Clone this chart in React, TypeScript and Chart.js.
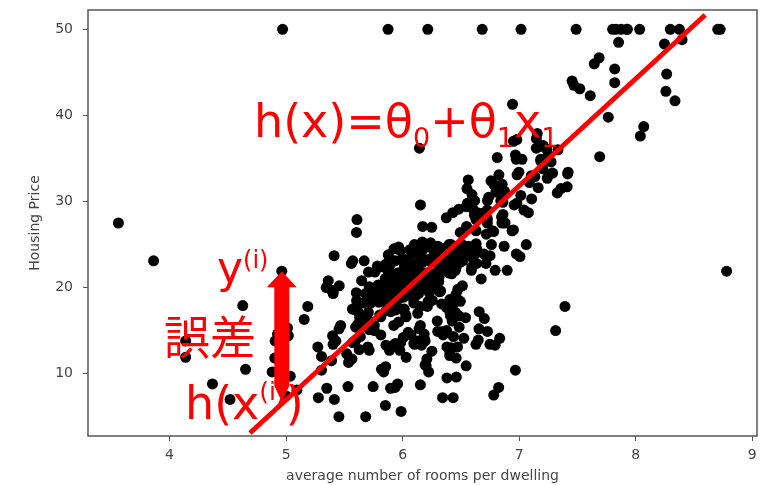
import React, { useEffect, useRef } from "react";
import { Chart, registerables } from "chart.js";

Chart.register(...registerables);

// average number of rooms per dwelling (x)
const roomsPerDwelling = [
  6.575,6.421,7.185,6.998,7.147,6.430,6.012,6.172,5.631,6.004,
  6.377,6.009,5.889,5.949,6.096,5.834,5.935,5.990,5.456,5.727,
  5.570,5.965,6.142,5.813,5.924,5.599,5.813,6.047,6.495,6.674,
  5.713,6.072,5.950,5.701,6.096,5.933,5.841,5.850,5.966,6.595,
  7.024,6.770,6.169,6.211,6.069,5.682,5.786,6.030,5.399,5.602,
  5.963,6.115,6.511,5.998,5.888,7.249,6.383,6.816,6.145,5.927,
  5.741,5.966,6.456,6.762,7.104,6.290,5.787,5.878,5.594,5.885,
  6.417,5.961,6.065,6.245,6.273,6.286,6.279,6.140,6.232,5.874,
  6.727,6.619,6.302,6.167,6.389,6.630,6.015,6.121,7.007,7.079,
  6.417,6.405,6.442,6.211,6.249,6.625,6.163,8.069,7.820,7.416,
  6.727,6.781,6.405,6.137,6.167,5.851,5.836,6.127,6.474,6.229,
  6.195,6.715,5.913,6.092,6.254,5.928,6.176,6.021,5.872,5.731,
  5.870,6.004,5.961,5.856,5.879,5.986,5.613,5.693,6.431,5.637,
  6.458,6.326,6.372,5.822,5.757,6.335,5.942,6.454,5.857,6.151,
  6.174,5.019,5.403,5.468,4.903,6.130,5.628,4.926,5.186,5.597,
  6.122,5.404,5.012,5.709,6.129,6.152,5.272,6.943,6.066,6.510,
  6.250,7.489,7.802,8.375,5.854,6.101,7.929,5.877,6.319,6.402,
  5.875,5.880,5.572,6.416,5.859,6.546,6.020,6.315,6.860,6.980,
  7.765,6.144,7.155,6.563,5.604,6.153,7.831,6.782,6.556,7.185,
  6.951,6.739,7.178,6.800,6.604,7.875,7.287,7.107,7.274,6.975,
  7.135,6.162,7.610,7.853,8.034,5.891,6.326,5.783,6.064,5.344,
  5.960,5.404,5.807,6.375,5.412,6.182,5.888,6.642,5.951,6.373,
  6.951,6.164,6.879,6.618,8.266,8.725,8.040,7.163,7.686,6.552,
  5.981,7.412,8.337,8.247,6.726,6.086,6.631,7.358,6.481,6.606,
  6.897,6.095,6.358,6.393,5.593,5.605,6.108,6.226,6.433,6.718,
  6.487,6.438,6.957,8.259,6.108,5.876,7.454,8.704,7.333,6.842,
  7.203,7.520,8.398,7.327,7.206,5.560,7.014,8.297,7.470,5.920,
  5.856,6.240,6.538,7.691,6.758,6.854,7.267,6.826,6.482,6.812,
  7.820,6.968,7.645,7.923,7.088,6.453,6.230,6.209,6.315,6.565,
  6.861,7.148,6.630,6.127,6.009,6.678,6.549,5.790,6.345,7.041,
  6.871,6.590,6.495,6.982,7.236,6.616,7.420,6.849,6.635,5.972,
  4.973,6.122,6.023,6.266,6.567,5.705,5.914,5.782,6.382,6.113,
  6.426,6.376,6.041,5.708,6.415,6.431,6.312,6.083,5.868,6.333,
  6.144,5.706,6.031,6.316,6.310,6.037,5.869,5.895,6.059,5.985,
  5.968,7.241,6.540,6.696,6.874,6.014,5.898,6.516,6.635,6.939,
  6.490,6.579,5.884,6.728,5.663,5.936,6.212,6.395,6.127,6.112,
  6.398,6.251,5.362,5.803,8.780,3.561,4.963,3.863,4.970,6.683,
  7.016,6.216,5.875,4.906,4.138,7.313,6.649,6.794,6.380,6.223,
  6.968,6.545,5.536,5.520,4.368,5.277,4.652,5.000,4.880,5.390,
  5.713,6.051,5.036,6.193,5.887,6.471,6.405,5.747,5.453,5.852,
  5.987,6.343,6.404,5.349,5.531,5.683,4.138,5.608,5.617,6.852,
  5.757,6.657,4.628,5.155,4.519,6.434,6.782,5.304,5.957,6.824,
  6.411,6.006,5.648,6.103,5.565,5.896,5.837,6.202,6.193,6.380,
  6.348,6.833,6.425,6.436,6.208,6.629,6.461,6.152,5.935,5.627,
  5.818,6.406,6.219,6.485,5.854,6.459,6.341,6.251,6.185,6.417,
  6.749,6.655,6.297,7.393,6.728,6.525,5.976,5.936,6.301,6.081,
  6.701,6.376,6.317,6.513,6.209,5.759,5.952,6.003,5.926,5.713,
  6.167,6.229,6.437,6.980,5.427,6.162,6.484,5.304,6.185,6.229,
  6.242,6.750,7.061,5.762,5.871,6.312,6.114,5.905,5.454,5.414,
  5.093,5.983,5.983,5.707,5.926,5.670,5.390,5.794,6.019,5.569,
  6.027,6.593,6.120,6.976,6.794,6.030,
];

// housing price (y)
const housingPrice = [
  24.0,21.6,34.7,33.4,36.2,28.7,22.9,27.1,16.5,18.9,
  15.0,18.9,21.7,20.4,18.2,19.9,23.1,17.5,20.2,18.2,
  13.6,19.6,15.2,14.5,15.6,13.9,16.6,14.8,18.4,21.0,
  12.7,14.5,13.2,13.1,13.5,18.9,20.0,21.0,24.7,30.8,
  34.9,26.6,25.3,24.7,21.2,19.3,20.0,16.6,14.4,19.4,
  19.7,20.5,25.0,23.4,18.9,35.4,24.7,31.6,23.3,19.6,
  18.7,16.0,22.2,25.0,33.0,23.5,19.4,22.0,17.4,20.9,
  24.2,21.7,22.8,23.4,24.1,21.4,20.0,20.8,21.2,20.3,
  28.0,23.9,24.8,22.9,23.9,26.6,22.5,22.2,23.6,28.7,
  22.6,22.0,22.9,25.0,20.6,28.4,21.4,38.7,43.8,33.2,
  27.5,26.5,18.6,19.3,20.1,19.5,19.5,20.4,19.8,19.4,
  21.7,22.8,18.8,18.7,18.5,18.3,21.2,19.2,20.4,19.3,
  22.0,20.3,20.5,17.3,18.8,21.4,15.7,16.2,18.0,14.3,
  19.2,19.6,23.0,18.4,15.6,18.1,17.4,17.1,13.3,17.8,
  14.0,14.4,13.4,15.6,11.8,13.8,15.6,14.6,17.8,15.4,
  21.5,19.6,15.3,19.4,17.0,15.6,13.1,41.3,24.3,23.3,
  27.0,50.0,50.0,50.0,22.7,25.0,50.0,23.8,23.8,22.3,
  17.4,19.1,23.1,23.6,22.6,29.4,23.2,24.6,29.9,37.2,
  39.8,36.2,37.9,32.5,26.4,29.6,50.0,32.0,29.8,34.9,
  37.0,30.5,36.4,31.1,29.1,50.0,33.3,30.3,34.6,34.9,
  32.9,24.1,42.3,48.5,50.0,22.6,24.4,22.5,24.4,20.0,
  21.7,19.3,22.4,28.1,23.7,25.0,23.3,28.7,21.5,23.0,
  26.7,21.7,27.5,30.1,44.8,50.0,37.6,31.6,46.7,31.5,
  24.3,31.7,41.7,48.3,29.0,24.0,25.1,31.5,23.7,23.3,
  22.0,20.1,22.2,23.7,17.6,18.5,24.3,20.5,24.5,26.2,
  24.4,24.8,29.6,42.8,21.9,20.9,44.0,50.0,36.0,30.1,
  33.8,43.1,48.8,31.0,36.5,22.8,30.7,50.0,43.5,20.7,
  21.1,25.2,24.4,35.2,32.4,32.0,33.2,33.1,29.1,35.1,
  45.4,35.4,46.0,50.0,32.2,22.0,20.1,23.2,22.3,24.8,
  28.5,37.3,27.9,23.9,21.7,28.6,27.1,20.3,22.5,29.0,
  24.8,22.0,26.4,33.1,36.1,28.4,33.4,28.2,22.8,20.3,
  16.1,22.1,19.4,21.6,23.8,16.2,17.8,19.8,23.1,21.0,
  23.8,23.1,20.4,18.5,25.0,24.6,23.0,22.2,19.3,22.6,
  19.8,17.1,19.4,22.2,20.7,21.1,19.5,18.5,20.6,19.0,
  18.7,32.7,16.5,23.9,31.2,17.5,17.2,23.1,24.5,26.6,
  22.9,24.1,18.6,30.1,18.2,20.6,17.8,21.7,22.7,22.6,
  25.0,19.9,20.8,16.8,21.9,27.5,21.9,23.1,50.0,50.0,
  50.0,50.0,50.0,13.8,13.8,15.0,13.9,13.3,13.1,10.2,
  10.4,10.9,11.3,12.3,8.8,7.2,10.5,7.4,10.2,11.5,
  15.1,23.2,9.7,13.8,12.7,13.1,12.5,8.5,5.0,6.3,
  5.6,7.2,12.1,8.3,8.5,5.0,11.9,27.9,17.2,27.5,
  15.0,17.2,17.9,16.3,7.0,7.2,7.5,10.4,8.8,8.4,
  16.7,14.2,20.8,13.4,11.7,8.3,10.2,10.9,11.0,9.5,
  14.5,14.1,16.1,14.3,11.7,13.4,9.6,8.7,8.4,12.8,
  10.5,17.1,18.4,15.4,10.8,11.8,14.9,12.6,14.1,13.0,
  13.4,15.2,16.1,17.8,14.9,14.1,12.7,13.5,14.9,20.0,
  16.4,17.7,19.5,20.2,21.4,19.9,19.0,19.1,19.1,20.1,
  19.9,19.6,23.2,29.8,13.8,13.3,16.7,12.0,14.6,21.4,
  23.0,23.7,25.0,21.8,20.6,21.2,19.1,20.6,15.2,7.0,
  8.1,13.6,20.1,21.8,24.5,23.1,19.7,18.3,21.2,17.5,
  16.8,22.4,20.6,23.9,22.0,11.9,
];

const xTickValues = [4, 5, 6, 7, 8, 9];
const yTickValues = [10, 20, 30, 40, 50];
const xRange = [3.3, 9.041];
const yRange = [2.75, 52.25];

// hand-drawn regression line h(x)
const fitLineRooms = [4.69, 8.596];
const fitLinePrice = [3.1, 51.67];

// highlighted sample y(i)
const sampleRooms = 4.963;
const samplePrice = 21.9;

const xAxisLabel = "average number of rooms per dwelling";
const yAxisLabel = "Housing Price";

const RED = "#ff0000";
const AXIS = "#555555";
const TEXT = "#444444";
const ANNOT_FONT = '"DejaVu Sans", "Noto Sans CJK JP", sans-serif';

function lineAt(x: number) {
  const t = (x - fitLineRooms[0]) / (fitLineRooms[1] - fitLineRooms[0]);
  return fitLinePrice[0] + t * (fitLinePrice[1] - fitLinePrice[0]);
}

const framePlugin = {
  id: "frame",
  beforeDatasetsDraw(chart: any) {
    const { ctx, chartArea } = chart;
    ctx.save();
    ctx.strokeStyle = AXIS;
    ctx.lineWidth = 1.5;
    ctx.strokeRect(chartArea.left, chartArea.top, chartArea.right - chartArea.left, chartArea.bottom - chartArea.top);
    ctx.restore();
  },
};

const annotationPlugin = {
  id: "annotations",
  afterDatasetsDraw(chart: any) {
    const { ctx } = chart;
    const xs = chart.scales.x;
    const ys = chart.scales.y;
    ctx.save();
    ctx.fillStyle = RED;
    ctx.textAlign = "left";
    ctx.textBaseline = "alphabetic";
    const runs = (x: number, y: number, parts: [string, number, number][]) => {
      for (const [t, size, dy] of parts) {
        ctx.font = `${size}px ${ANNOT_FONT}`;
        ctx.fillText(t, x, y + dy);
        x += ctx.measureText(t).width;
      }
    };
    // formula
    runs(254, 137, [
      ["h(x)=θ", 46, 0],
      ["0", 27, 10],
      ["+θ", 46, 0],
      ["1", 27, 10],
      ["x", 46, 0],
      ["1", 27, 10],
    ]);
    // y(i)
    runs(217, 283, [
      ["y", 44, 0],
      ["(i)", 24, -15],
    ]);
    // 誤差
    runs(164, 354, [["誤差", 46, 0]]);
    // h(x(i))
    runs(185, 419, [
      ["h(x", 46, 0],
      ["(i)", 25, -19],
      [")", 46, 0],
    ]);

    // double-headed error arrow
    const ax = xs.getPixelForValue(sampleRooms);
    const top = ys.getPixelForValue(samplePrice);
    const bottom = ys.getPixelForValue(lineAt(sampleRooms)) - 2;
    const headH = 16;
    const headW = 15;
    const shaftW = 7.5;
    ctx.beginPath();
    ctx.moveTo(ax, top);
    ctx.lineTo(ax + headW, top + headH);
    ctx.lineTo(ax + shaftW, top + headH);
    ctx.lineTo(ax + shaftW, bottom - 16);
    ctx.lineTo(ax, bottom);
    ctx.lineTo(ax - shaftW, bottom - 16);
    ctx.lineTo(ax - shaftW, top + headH);
    ctx.lineTo(ax - headW, top + headH);
    ctx.closePath();
    ctx.fill();
    ctx.restore();
  },
};

export default function App() {
  const ref = useRef<HTMLCanvasElement | null>(null);
  useEffect(() => {
    if (!ref.current) return;
    const scatterData = roomsPerDwelling.map((x, i) => ({ x, y: housingPrice[i] }));
    const lineData = fitLineRooms.map((x, i) => ({ x, y: fitLinePrice[i] }));
    const tickFont = { family: "DejaVu Sans", size: 14 };
    const chart = new Chart(ref.current, {
      type: "scatter",
      data: {
        datasets: [
          {
            type: "line",
            data: lineData,
            borderColor: RED,
            borderWidth: 5,
            pointRadius: 0,
            fill: false,
            order: 0,
          } as any,
          {
            type: "scatter",
            data: scatterData,
            backgroundColor: "#000000",
            borderColor: "#000000",
            borderWidth: 0,
            pointRadius: 5.5,
            order: 1,
          },
        ],
      },
      options: {
        animation: false,
        responsive: false,
        events: [],
        layout: { padding: { top: 10, right: 13, left: 0, bottom: 0 } },
        plugins: { legend: { display: false }, tooltip: { enabled: false } },
        scales: {
          x: {
            type: "linear",
            min: xRange[0],
            max: xRange[1],
            afterBuildTicks: (s: any) => {
              s.ticks = xTickValues.map((v) => ({ value: v }));
            },
            afterFit: (s: any) => {
              s.height = 49;
              s.paddingLeft = 0;
              s.paddingRight = 0;
            },
            grid: { display: true, drawOnChartArea: false, drawTicks: true, tickLength: 5, color: AXIS, lineWidth: 1 },
            border: { display: false },
            ticks: { font: tickFont, color: TEXT, padding: 6, maxRotation: 0 },
            title: { display: true, text: xAxisLabel, font: tickFont, color: TEXT, padding: 0 },
          },
          y: {
            type: "linear",
            min: yRange[0],
            max: yRange[1],
            afterBuildTicks: (s: any) => {
              s.ticks = yTickValues.map((v) => ({ value: v }));
            },
            afterFit: (s: any) => {
              s.width = 88;
              s.paddingTop = 0;
              s.paddingBottom = 0;
            },
            grid: { display: true, drawOnChartArea: false, drawTicks: true, tickLength: 5, color: AXIS, lineWidth: 1 },
            border: { display: false },
            ticks: { font: tickFont, color: TEXT, padding: 10 },
            title: { display: true, text: yAxisLabel, font: tickFont, color: TEXT, padding: { top: 27, bottom: 0 } },
          },
        },
      },
      plugins: [framePlugin, annotationPlugin],
    });
    return () => chart.destroy();
  }, []);
  return (
    <div style={{ position: "fixed", left: 0, top: 0, width: 770, height: 485, background: "#fff" }}>
      <canvas ref={ref} width={770} height={485} style={{ width: 770, height: 485, display: "block" }} />
    </div>
  );
}
